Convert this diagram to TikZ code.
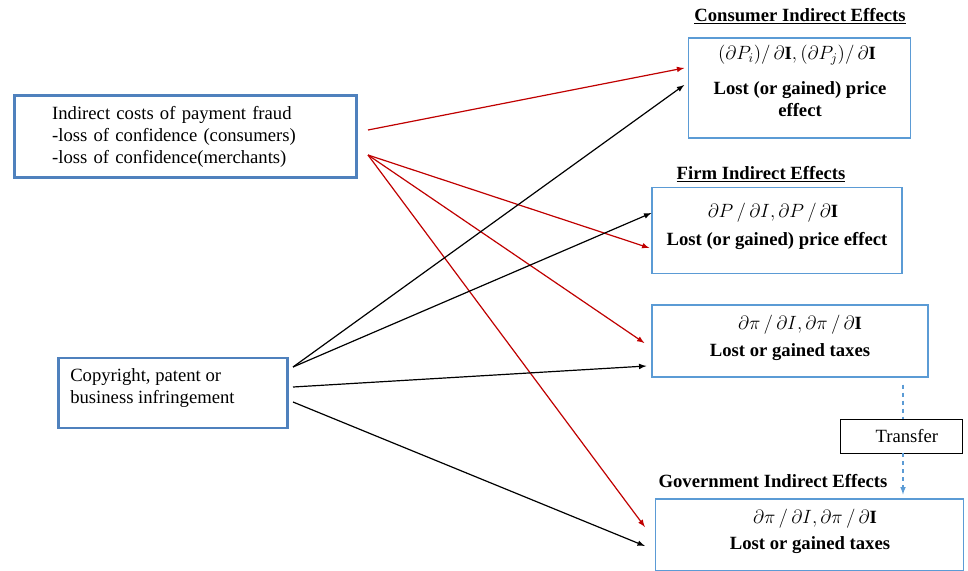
\documentclass[tikz,border=0pt]{standalone}
\usepackage{fontspec}
\setmainfont{Liberation Serif}
\usetikzlibrary{calc}
\definecolor{boxblue}{RGB}{79,129,189}
\definecolor{lightblue}{RGB}{91,155,213}
\definecolor{darkred}{RGB}{192,0,0}
\tikzset{
	source/.style={draw=boxblue,line width=2.2pt,fill=white,align=left,font=\fontsize{14}{16.5}\selectfont},
	effect/.style={draw=lightblue,line width=0.9pt,fill=white},
	effecttext/.style={align=center,inner sep=0pt,font=\fontsize{14}{16.5}\selectfont\bfseries},
	formula/.style={inner sep=0pt,font=\fontsize{14}{16.5}\selectfont},
	heading/.style={font=\fontsize{14}{16}\selectfont\bfseries},
	link/.style={->,line width=0.9pt},
	>=latex
}
\begin{document}
\begin{tikzpicture}[x=0.75pt,y=-0.75pt]
		\clip (0,0) rectangle (968,571);
		\fill[white] (0,0) rectangle (968,571);

		% sources
		\node[source,inner xsep=28.5pt,text width=200pt,minimum height=62pt] (fraud) at (185.5,136.5)
			{Indirect costs of payment fraud\\-loss of confidence (consumers)\\-loss of confidence(merchants)};
		\node[source,inner xsep=9pt,text width=154pt,minimum height=52.5pt] (copy) at (173,393) {};
		\node[align=left,inner sep=0pt,font=\fontsize{14}{16.5}\selectfont,anchor=west] (copyt) at (70,388)
			{Copyright, patent or\\business infringement};

		% consumer effects
		\node[heading] (constitle) at (800,16) {\underline{Consumer Indirect Effects}};
		\node[effect,minimum width=166pt,minimum height=75pt] (cons) at (799.5,88) {};
		\node[formula] (consf) at (797,55)
			{$\bigl(\partial P_i\bigr)/\,\partial\mathbf{I},\bigl(\partial P_j\bigr)/\,\partial\mathbf{I}$};
		\node[effecttext] (consl) at (800,99) {Lost (or gained) price\\effect};

		% firm effects
		\node[heading] (firmtitle) at (761,174) {\underline{Firm Indirect Effects}};
		\node[effect,minimum width=187.5pt,minimum height=64pt] (firm) at (777,230.5) {};
		\node[formula] (firmf) at (773,213) {$\partial P\,/\,\partial I,\partial P\,/\,\partial\mathbf{I}$};
		\node[effecttext] (firml) at (777,241) {Lost (or gained) price effect};

		% taxes
		\node[effect,minimum width=207pt,minimum height=54pt] (tax) at (790,341) {};
		\node[formula] (taxf) at (800,325) {$\partial\pi\,/\,\partial I,\partial\pi\,/\,\partial\mathbf{I}$};
		\node[effecttext] (taxl) at (790,352) {Lost or gained taxes};

		% government effects
		\node[heading] (govtitle) at (773,481) {Government Indirect Effects};
		\node[effect,minimum width=231pt,minimum height=54pt] (gov) at (809.5,535) {};
		\node[formula] (govf) at (815,519) {$\partial\pi\,/\,\partial I,\partial\pi\,/\,\partial\mathbf{I}$};
		\node[effecttext] (govl) at (810,545) {Lost or gained taxes};

		\node[draw,line width=0.7pt,minimum width=92pt,minimum height=25.5pt,font=\fontsize{14}{16}\selectfont] (tr) at (901.5,436) {\hspace{8pt}Transfer};

		% start points
		\coordinate (fa) at (368,130);
		\coordinate (fb) at (368,155);
		\coordinate (ca) at (293,367);
		\coordinate (cb) at (293,387);
		\coordinate (cc) at (293,402);
		\coordinate (tt) at ($(tr.north)+(1.5,-34)$);

		\draw[link,darkred] (fa) -- ($(cons.west)+(-4,-20)$);
		\draw[link,darkred] (fb) -- ($(firm.west)+(-2,17.5)$);
		\draw[link,darkred] (fb) -- ($(tax.west)+(-7,2)$);
		\draw[link,darkred] (fb) -- ($(gov.west)+(-10,-8)$);

		\draw[link] (ca) -- ($(cons.west)+(-4,-3)$);
		\draw[link] (ca) -- ($(firm.west)+(0,-17.5)$);
		\draw[link] (cb) -- ($(tax.west)+(-5,25)$);
		\draw[link] (cc) -- ($(gov.west)+(-10,11)$);

		\draw[lightblue,dashed,line width=0.9pt] (tt) -- (tt |- tr.north);
		\draw[lightblue,dashed,line width=0.9pt,->] (tt |- tr.south) -- ($(tt |- gov.north)+(0,-4)$);
	\end{tikzpicture}
\end{document}
